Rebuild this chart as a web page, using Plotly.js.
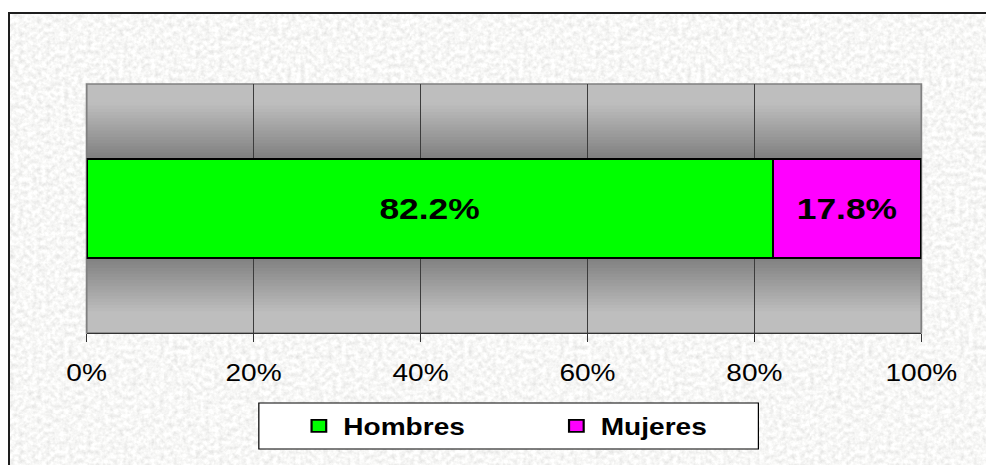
<!DOCTYPE html>
<html>
<head>
<meta charset="utf-8">
<script src="https://cdn.plot.ly/plotly-3.0.1.min.js"></script>
<style>
  html, body { margin: 0; padding: 0; background: #ffffff; width: 986px; height: 465px; overflow: hidden; }
  #frame {
    position: absolute; left: 8px; top: 12px; width: 1400px; height: 900px;
    border-top: 2px solid #1e1e1e; border-left: 2px solid #1e1e1e;
    background-color: #ebebe9;
    background-image: url("data:image/svg+xml;utf8,<svg xmlns='http://www.w3.org/2000/svg' width='400' height='400'><filter id='n' x='0' y='0' width='100%' height='100%'><feTurbulence type='fractalNoise' baseFrequency='0.22' numOctaves='3' seed='11'/><feColorMatrix type='matrix' values='0.4 0 0 0 0.73  0.4 0 0 0 0.73  0.4 0 0 0 0.72  0 0 0 0 1'/></filter><rect width='400' height='400' filter='url(%23n)'/></svg>");
  }
  #chart { position: absolute; left: 0; top: 0; width: 808px; height: 465px; transform-origin: 0 0; transform: scaleX(1.2203); }
</style>
</head>
<body>
<div id="frame"></div>
<div id="chart"></div>
<script>
// ---- data ----
var categories = ['Hombres', 'Mujeres'];
var values = [82.2, 17.8];
var rowLabel = ['Total'];
var tickValues = [0, 20, 40, 60, 80, 100];
var tickLabels = ['0%', '20%', '40%', '60%', '80%', '100%'];

// ---- styling ----
var barColors = ['#00ff00', '#ff00ff'];
var fontFamily = 'Liberation Sans, Arial, sans-serif';

var traces = categories.map(function (name, i) {
  return {
    type: 'bar',
    orientation: 'h',
    name: name,
    y: rowLabel,
    x: [values[i]],
    width: 0.4,
    marker: { color: barColors[i], line: { color: '#000000', width: 1.8 } },
    texttemplate: '%{x:.1f}%',
    textposition: 'inside',
    insidetextanchor: 'middle',
    textfont: { family: fontFamily, size: 29, color: '#000000', weight: 'bold' },
    hoverinfo: 'name+x'
  };
});

// plot-area vertical gradient (dark near the bar, light at the edges)
var shapes = [];
var N = 80, plotTop = 84, plotH = 249, center = 208;
for (var i = 0; i < N; i++) {
  var mid = plotTop + plotH - (i + 0.5) / N * plotH;
  var d = Math.abs(mid - center);
  var c = d < 50 ? 128 : 128 + 62 * Math.min(1, (d - 50) / 55);
  c = Math.round(c);
  shapes.push({
    type: 'rect', xref: 'paper', yref: 'paper', layer: 'below',
    x0: 0, x1: 1, y0: i / N, y1: Math.min(1, (i + 1) / N + 0.003),
    fillcolor: 'rgb(' + c + ',' + c + ',' + c + ')', line: { width: 0 }
  });
}
// plot-area border
shapes.push({
  type: 'rect', xref: 'paper', yref: 'paper', layer: 'below',
  x0: 0, x1: 1, y0: 0, y1: 1, fillcolor: 'rgba(0,0,0,0)',
  line: { color: '#808080', width: 1.5 }
});
// legend box
shapes.push({
  type: 'rect', xref: 'paper', yref: 'paper', layer: 'below',
  x0: 0.2063, x1: 0.8048, y0: -0.2811, y1: -0.4659,
  fillcolor: '#ffffff', line: { color: '#000000', width: 1 }
});

var layout = {
  width: 808,
  height: 465,
  margin: { l: 71, r: 53, t: 84, b: 132 },
  paper_bgcolor: 'rgba(0,0,0,0)',
  plot_bgcolor: 'rgba(0,0,0,0)',
  barmode: 'stack',
  bargap: 0,
  font: { family: fontFamily, color: '#000000' },
  xaxis: {
    range: [0, 100],
    tickvals: tickValues,
    ticktext: tickLabels,
    tickfont: { family: fontFamily, size: 23, color: '#000000' },
    ticks: 'outside', ticklen: 8, tickcolor: '#333333', tickwidth: 1,
    ticklabelstandoff: 11,
    showline: true, linecolor: '#333333', linewidth: 1.2,
    showgrid: true, gridcolor: '#3c3c3c', gridwidth: 1,
    zeroline: false, fixedrange: true
  },
  yaxis: {
    range: [-0.5, 0.5],
    showticklabels: false, showgrid: false, zeroline: false, showline: false,
    ticks: '', fixedrange: true
  },
  showlegend: true,
  legend: {
    orientation: 'h',
    x: 0.249, xanchor: 'left',
    y: -0.3735, yanchor: 'middle',
    bgcolor: 'rgba(0,0,0,0)', borderwidth: 0,
    font: { family: fontFamily, size: 23, color: '#000000', weight: 'bold' },
    entrywidth: 166,
    traceorder: 'normal'
  },
  shapes: shapes
};

Plotly.newPlot('chart', traces, layout, { displayModeBar: false, staticPlot: true });
</script>
</body>
</html>
